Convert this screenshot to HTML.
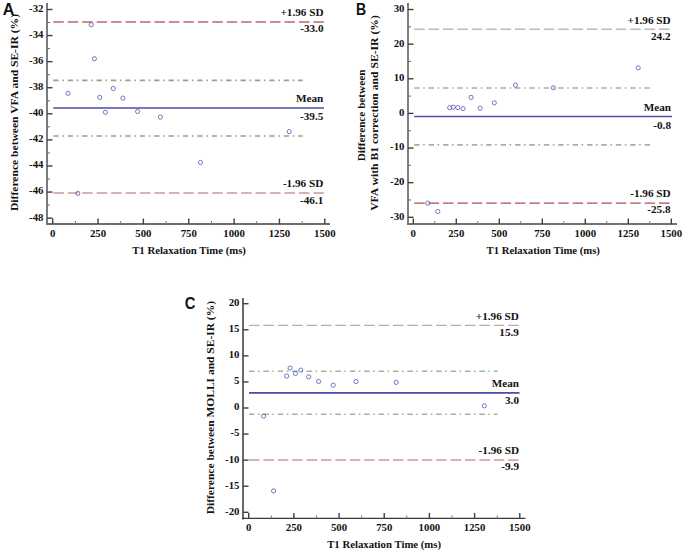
<!DOCTYPE html>
<html><head><meta charset="utf-8"><style>
html,body{margin:0;padding:0;background:#fff;}
body{width:685px;height:553px;overflow:hidden;}
svg{display:block;}
text{font-family:'Liberation Serif',serif;font-weight:bold;fill:#111;}
</style></head><body>
<svg width="685" height="553" viewBox="0 0 685 553">
<rect width="685" height="553" fill="#fff"/>
<line x1="47.00" y1="3.00" x2="47.00" y2="225.00" stroke="#747474" stroke-width="1.9" />
<line x1="46.10" y1="224.00" x2="330.00" y2="224.00" stroke="#6e6e6e" stroke-width="1.8" />
<line x1="47.00" y1="9.50" x2="52.50" y2="9.50" stroke="#404040" stroke-width="1.4" />
<text x="43.50" y="11.90" text-anchor="end" font-size="10.8" >-32</text>
<line x1="47.00" y1="35.58" x2="52.50" y2="35.58" stroke="#404040" stroke-width="1.4" />
<text x="43.50" y="37.98" text-anchor="end" font-size="10.8" >-34</text>
<line x1="47.00" y1="61.66" x2="52.50" y2="61.66" stroke="#404040" stroke-width="1.4" />
<text x="43.50" y="64.06" text-anchor="end" font-size="10.8" >-36</text>
<line x1="47.00" y1="87.74" x2="52.50" y2="87.74" stroke="#404040" stroke-width="1.4" />
<text x="43.50" y="90.14" text-anchor="end" font-size="10.8" >-38</text>
<line x1="47.00" y1="113.82" x2="52.50" y2="113.82" stroke="#404040" stroke-width="1.4" />
<text x="43.50" y="116.22" text-anchor="end" font-size="10.8" >-40</text>
<line x1="47.00" y1="139.90" x2="52.50" y2="139.90" stroke="#404040" stroke-width="1.4" />
<text x="43.50" y="142.30" text-anchor="end" font-size="10.8" >-42</text>
<line x1="47.00" y1="165.98" x2="52.50" y2="165.98" stroke="#404040" stroke-width="1.4" />
<text x="43.50" y="168.38" text-anchor="end" font-size="10.8" >-44</text>
<line x1="47.00" y1="192.06" x2="52.50" y2="192.06" stroke="#404040" stroke-width="1.4" />
<text x="43.50" y="194.46" text-anchor="end" font-size="10.8" >-46</text>
<line x1="47.00" y1="218.14" x2="52.50" y2="218.14" stroke="#404040" stroke-width="1.4" />
<text x="43.50" y="220.54" text-anchor="end" font-size="10.8" >-48</text>
<line x1="47.00" y1="22.54" x2="50.00" y2="22.54" stroke="#666" stroke-width="1" />
<line x1="47.00" y1="48.62" x2="50.00" y2="48.62" stroke="#666" stroke-width="1" />
<line x1="47.00" y1="74.70" x2="50.00" y2="74.70" stroke="#666" stroke-width="1" />
<line x1="47.00" y1="100.78" x2="50.00" y2="100.78" stroke="#666" stroke-width="1" />
<line x1="47.00" y1="126.86" x2="50.00" y2="126.86" stroke="#666" stroke-width="1" />
<line x1="47.00" y1="152.94" x2="50.00" y2="152.94" stroke="#666" stroke-width="1" />
<line x1="47.00" y1="179.02" x2="50.00" y2="179.02" stroke="#666" stroke-width="1" />
<line x1="47.00" y1="205.10" x2="50.00" y2="205.10" stroke="#666" stroke-width="1" />
<line x1="52.70" y1="224.00" x2="52.70" y2="218.50" stroke="#404040" stroke-width="1.4" />
<text x="52.70" y="236.80" text-anchor="middle" font-size="10.8" >0</text>
<line x1="98.05" y1="224.00" x2="98.05" y2="218.50" stroke="#404040" stroke-width="1.4" />
<text x="98.05" y="236.80" text-anchor="middle" font-size="10.8" >250</text>
<line x1="143.40" y1="224.00" x2="143.40" y2="218.50" stroke="#404040" stroke-width="1.4" />
<text x="143.40" y="236.80" text-anchor="middle" font-size="10.8" >500</text>
<line x1="188.75" y1="224.00" x2="188.75" y2="218.50" stroke="#404040" stroke-width="1.4" />
<text x="188.75" y="236.80" text-anchor="middle" font-size="10.8" >750</text>
<line x1="234.10" y1="224.00" x2="234.10" y2="218.50" stroke="#404040" stroke-width="1.4" />
<text x="234.10" y="236.80" text-anchor="middle" font-size="10.8" >1000</text>
<line x1="279.45" y1="224.00" x2="279.45" y2="218.50" stroke="#404040" stroke-width="1.4" />
<text x="279.45" y="236.80" text-anchor="middle" font-size="10.8" >1250</text>
<line x1="324.80" y1="224.00" x2="324.80" y2="218.50" stroke="#404040" stroke-width="1.4" />
<text x="324.80" y="236.80" text-anchor="middle" font-size="10.8" >1500</text>
<line x1="75.38" y1="224.00" x2="75.38" y2="221.00" stroke="#777" stroke-width="1" />
<line x1="120.73" y1="224.00" x2="120.73" y2="221.00" stroke="#777" stroke-width="1" />
<line x1="166.07" y1="224.00" x2="166.07" y2="221.00" stroke="#777" stroke-width="1" />
<line x1="211.43" y1="224.00" x2="211.43" y2="221.00" stroke="#777" stroke-width="1" />
<line x1="256.77" y1="224.00" x2="256.77" y2="221.00" stroke="#777" stroke-width="1" />
<line x1="302.12" y1="224.00" x2="302.12" y2="221.00" stroke="#777" stroke-width="1" />
<line x1="53.30" y1="22.10" x2="324.00" y2="22.10" stroke="#bb6a6a" stroke-width="1.5" stroke-dasharray="10.5 3.95" />
<line x1="53.30" y1="193.00" x2="324.00" y2="193.00" stroke="#c99a9a" stroke-width="1.5" stroke-dasharray="10.5 3.95" />
<line x1="53.30" y1="80.40" x2="302.80" y2="80.40" stroke="#88ab88" stroke-width="1.6" stroke-dasharray="5.4 3.6 1.6 3.8" />
<line x1="53.30" y1="136.00" x2="302.80" y2="136.00" stroke="#88ab88" stroke-width="1.6" stroke-dasharray="5.4 3.6 1.6 3.8" />
<line x1="53.30" y1="108.00" x2="324.00" y2="108.00" stroke="#4b4ba8" stroke-width="1.6" />
<circle cx="68.00" cy="93.30" r="2.1" fill="none" stroke="#4c4cb2" stroke-width="0.75"/>
<circle cx="77.80" cy="193.40" r="2.1" fill="none" stroke="#4c4cb2" stroke-width="0.75"/>
<circle cx="91.20" cy="24.70" r="2.1" fill="none" stroke="#4c4cb2" stroke-width="0.75"/>
<circle cx="94.40" cy="58.70" r="2.1" fill="none" stroke="#4c4cb2" stroke-width="0.75"/>
<circle cx="99.70" cy="97.40" r="2.1" fill="none" stroke="#4c4cb2" stroke-width="0.75"/>
<circle cx="105.40" cy="112.30" r="2.1" fill="none" stroke="#4c4cb2" stroke-width="0.75"/>
<circle cx="113.30" cy="88.50" r="2.1" fill="none" stroke="#4c4cb2" stroke-width="0.75"/>
<circle cx="122.90" cy="98.10" r="2.1" fill="none" stroke="#4c4cb2" stroke-width="0.75"/>
<circle cx="137.60" cy="111.50" r="2.1" fill="none" stroke="#4c4cb2" stroke-width="0.75"/>
<circle cx="160.40" cy="117.10" r="2.1" fill="none" stroke="#4c4cb2" stroke-width="0.75"/>
<circle cx="200.50" cy="162.50" r="2.1" fill="none" stroke="#4c4cb2" stroke-width="0.75"/>
<circle cx="289.20" cy="131.60" r="2.1" fill="none" stroke="#4c4cb2" stroke-width="0.75"/>
<text x="323.50" y="15.80" text-anchor="end" font-size="11.2" >+1.96 SD</text>
<text x="323.50" y="32.40" text-anchor="end" font-size="11.2" >-33.0</text>
<text x="323.30" y="102.30" text-anchor="end" font-size="11.2" >Mean</text>
<text x="323.30" y="119.60" text-anchor="end" font-size="11.2" >-39.5</text>
<text x="323.30" y="186.80" text-anchor="end" font-size="11.2" >-1.96 SD</text>
<text x="323.30" y="203.60" text-anchor="end" font-size="11.2" >-46.1</text>
<text x="132.20" y="253.50" font-size="11.0" textLength="113.70" lengthAdjust="spacingAndGlyphs">T1 Relaxation Time (ms)</text>
<text transform="translate(17.60,211.00) rotate(-90)" font-size="11.0" textLength="197.00" lengthAdjust="spacingAndGlyphs">Difference between VFA and SE-IR (%)</text>
<text transform="translate(2.7,14.6) scale(0.98,1)" font-size="16.4" style="font-family:'Liberation Sans',sans-serif;font-weight:bold" fill="#000">A</text>
<line x1="408.00" y1="3.00" x2="408.00" y2="225.00" stroke="#7e7e7e" stroke-width="2.0" />
<line x1="407.10" y1="224.00" x2="677.00" y2="224.00" stroke="#727272" stroke-width="1.8" />
<line x1="408.00" y1="9.51" x2="413.50" y2="9.51" stroke="#404040" stroke-width="1.4" />
<text x="404.50" y="11.91" text-anchor="end" font-size="10.8" >30</text>
<line x1="408.00" y1="44.14" x2="413.50" y2="44.14" stroke="#404040" stroke-width="1.4" />
<text x="404.50" y="46.54" text-anchor="end" font-size="10.8" >20</text>
<line x1="408.00" y1="78.77" x2="413.50" y2="78.77" stroke="#404040" stroke-width="1.4" />
<text x="404.50" y="81.17" text-anchor="end" font-size="10.8" >10</text>
<line x1="408.00" y1="113.40" x2="413.50" y2="113.40" stroke="#404040" stroke-width="1.4" />
<text x="404.50" y="115.80" text-anchor="end" font-size="10.8" >0</text>
<line x1="408.00" y1="148.03" x2="413.50" y2="148.03" stroke="#404040" stroke-width="1.4" />
<text x="404.50" y="150.43" text-anchor="end" font-size="10.8" >-10</text>
<line x1="408.00" y1="182.66" x2="413.50" y2="182.66" stroke="#404040" stroke-width="1.4" />
<text x="404.50" y="185.06" text-anchor="end" font-size="10.8" >-20</text>
<line x1="408.00" y1="217.29" x2="413.50" y2="217.29" stroke="#404040" stroke-width="1.4" />
<text x="404.50" y="219.69" text-anchor="end" font-size="10.8" >-30</text>
<line x1="408.00" y1="26.83" x2="411.00" y2="26.83" stroke="#666" stroke-width="1" />
<line x1="408.00" y1="61.46" x2="411.00" y2="61.46" stroke="#666" stroke-width="1" />
<line x1="408.00" y1="96.09" x2="411.00" y2="96.09" stroke="#666" stroke-width="1" />
<line x1="408.00" y1="130.72" x2="411.00" y2="130.72" stroke="#666" stroke-width="1" />
<line x1="408.00" y1="165.34" x2="411.00" y2="165.34" stroke="#666" stroke-width="1" />
<line x1="408.00" y1="199.98" x2="411.00" y2="199.98" stroke="#666" stroke-width="1" />
<line x1="413.30" y1="224.00" x2="413.30" y2="218.50" stroke="#404040" stroke-width="1.4" />
<text x="413.30" y="236.60" text-anchor="middle" font-size="10.8" >0</text>
<line x1="456.30" y1="224.00" x2="456.30" y2="218.50" stroke="#404040" stroke-width="1.4" />
<text x="456.30" y="236.60" text-anchor="middle" font-size="10.8" >250</text>
<line x1="499.30" y1="224.00" x2="499.30" y2="218.50" stroke="#404040" stroke-width="1.4" />
<text x="499.30" y="236.60" text-anchor="middle" font-size="10.8" >500</text>
<line x1="542.30" y1="224.00" x2="542.30" y2="218.50" stroke="#404040" stroke-width="1.4" />
<text x="542.30" y="236.60" text-anchor="middle" font-size="10.8" >750</text>
<line x1="585.30" y1="224.00" x2="585.30" y2="218.50" stroke="#404040" stroke-width="1.4" />
<text x="585.30" y="236.60" text-anchor="middle" font-size="10.8" >1000</text>
<line x1="628.30" y1="224.00" x2="628.30" y2="218.50" stroke="#404040" stroke-width="1.4" />
<text x="628.30" y="236.60" text-anchor="middle" font-size="10.8" >1250</text>
<line x1="671.30" y1="224.00" x2="671.30" y2="218.50" stroke="#404040" stroke-width="1.4" />
<text x="671.30" y="236.60" text-anchor="middle" font-size="10.8" >1500</text>
<line x1="434.80" y1="224.00" x2="434.80" y2="221.00" stroke="#777" stroke-width="1" />
<line x1="477.80" y1="224.00" x2="477.80" y2="221.00" stroke="#777" stroke-width="1" />
<line x1="520.80" y1="224.00" x2="520.80" y2="221.00" stroke="#777" stroke-width="1" />
<line x1="563.80" y1="224.00" x2="563.80" y2="221.00" stroke="#777" stroke-width="1" />
<line x1="606.80" y1="224.00" x2="606.80" y2="221.00" stroke="#777" stroke-width="1" />
<line x1="649.80" y1="224.00" x2="649.80" y2="221.00" stroke="#777" stroke-width="1" />
<line x1="414.20" y1="29.30" x2="670.00" y2="29.30" stroke="#cbb3b3" stroke-width="1.5" stroke-dasharray="10.5 3.9" />
<line x1="414.20" y1="203.20" x2="670.00" y2="203.20" stroke="#b44c4c" stroke-width="1.3" stroke-dasharray="10.5 3.9" />
<line x1="414.20" y1="88.00" x2="650.20" y2="88.00" stroke="#9ab89a" stroke-width="1.6" stroke-dasharray="5.4 3.6 1.6 3.8" />
<line x1="414.20" y1="144.90" x2="650.20" y2="144.90" stroke="#9ab89a" stroke-width="1.6" stroke-dasharray="5.4 3.6 1.6 3.8" />
<line x1="414.20" y1="116.50" x2="672.00" y2="116.50" stroke="#4b4ba8" stroke-width="1.6" />
<circle cx="427.80" cy="203.10" r="2.1" fill="none" stroke="#4c4cb2" stroke-width="0.75"/>
<circle cx="437.80" cy="211.50" r="2.1" fill="none" stroke="#4c4cb2" stroke-width="0.75"/>
<circle cx="449.70" cy="107.70" r="2.1" fill="none" stroke="#4c4cb2" stroke-width="0.75"/>
<circle cx="453.20" cy="107.20" r="2.1" fill="none" stroke="#4c4cb2" stroke-width="0.75"/>
<circle cx="457.80" cy="107.60" r="2.1" fill="none" stroke="#4c4cb2" stroke-width="0.75"/>
<circle cx="463.00" cy="108.60" r="2.1" fill="none" stroke="#4c4cb2" stroke-width="0.75"/>
<circle cx="471.10" cy="97.40" r="2.1" fill="none" stroke="#4c4cb2" stroke-width="0.75"/>
<circle cx="480.10" cy="108.20" r="2.1" fill="none" stroke="#4c4cb2" stroke-width="0.75"/>
<circle cx="494.30" cy="102.90" r="2.1" fill="none" stroke="#4c4cb2" stroke-width="0.75"/>
<circle cx="515.50" cy="85.20" r="2.1" fill="none" stroke="#4c4cb2" stroke-width="0.75"/>
<circle cx="553.40" cy="87.80" r="2.1" fill="none" stroke="#4c4cb2" stroke-width="0.75"/>
<circle cx="638.20" cy="67.80" r="2.1" fill="none" stroke="#4c4cb2" stroke-width="0.75"/>
<text x="670.60" y="23.70" text-anchor="end" font-size="11.2" >+1.96 SD</text>
<text x="670.60" y="40.30" text-anchor="end" font-size="11.2" >24.2</text>
<text x="671.00" y="111.00" text-anchor="end" font-size="11.2" >Mean</text>
<text x="671.00" y="128.50" text-anchor="end" font-size="11.2" >-0.8</text>
<text x="670.60" y="197.40" text-anchor="end" font-size="11.2" >-1.96 SD</text>
<text x="670.60" y="213.30" text-anchor="end" font-size="11.2" >-25.8</text>
<text x="486.60" y="253.50" font-size="11.0" textLength="113.30" lengthAdjust="spacingAndGlyphs">T1 Relaxation Time (ms)</text>
<text transform="translate(364.80,161.30) rotate(-90)" font-size="11.0" textLength="91.70" lengthAdjust="spacingAndGlyphs">Difference between</text>
<text transform="translate(378.20,210.80) rotate(-90)" font-size="11.0" textLength="195.60" lengthAdjust="spacingAndGlyphs">VFA with B1 correction and SE-IR (%)</text>
<text transform="translate(355.9,14.6) scale(0.86,1)" font-size="16.4" style="font-family:'Liberation Sans',sans-serif;font-weight:bold" fill="#000">B</text>
<line x1="243.00" y1="298.00" x2="243.00" y2="519.40" stroke="#626262" stroke-width="1.9" />
<line x1="242.10" y1="518.40" x2="525.40" y2="518.40" stroke="#3a3a3a" stroke-width="1.4" />
<line x1="243.00" y1="303.70" x2="248.50" y2="303.70" stroke="#404040" stroke-width="1.4" />
<text x="239.50" y="306.10" text-anchor="end" font-size="10.8" >20</text>
<line x1="243.00" y1="329.77" x2="248.50" y2="329.77" stroke="#404040" stroke-width="1.4" />
<text x="239.50" y="332.17" text-anchor="end" font-size="10.8" >15</text>
<line x1="243.00" y1="355.85" x2="248.50" y2="355.85" stroke="#404040" stroke-width="1.4" />
<text x="239.50" y="358.25" text-anchor="end" font-size="10.8" >10</text>
<line x1="243.00" y1="381.93" x2="248.50" y2="381.93" stroke="#404040" stroke-width="1.4" />
<text x="239.50" y="384.32" text-anchor="end" font-size="10.8" >5</text>
<line x1="243.00" y1="408.00" x2="248.50" y2="408.00" stroke="#404040" stroke-width="1.4" />
<text x="239.50" y="410.40" text-anchor="end" font-size="10.8" >0</text>
<line x1="243.00" y1="434.07" x2="248.50" y2="434.07" stroke="#404040" stroke-width="1.4" />
<text x="239.50" y="436.47" text-anchor="end" font-size="10.8" >-5</text>
<line x1="243.00" y1="460.15" x2="248.50" y2="460.15" stroke="#404040" stroke-width="1.4" />
<text x="239.50" y="462.55" text-anchor="end" font-size="10.8" >-10</text>
<line x1="243.00" y1="486.23" x2="248.50" y2="486.23" stroke="#404040" stroke-width="1.4" />
<text x="239.50" y="488.62" text-anchor="end" font-size="10.8" >-15</text>
<line x1="243.00" y1="512.30" x2="248.50" y2="512.30" stroke="#404040" stroke-width="1.4" />
<text x="239.50" y="514.70" text-anchor="end" font-size="10.8" >-20</text>
<line x1="248.70" y1="518.40" x2="248.70" y2="512.90" stroke="#404040" stroke-width="1.4" />
<text x="248.70" y="531.20" text-anchor="middle" font-size="10.8" >0</text>
<line x1="293.88" y1="518.40" x2="293.88" y2="512.90" stroke="#404040" stroke-width="1.4" />
<text x="293.88" y="531.20" text-anchor="middle" font-size="10.8" >250</text>
<line x1="339.06" y1="518.40" x2="339.06" y2="512.90" stroke="#404040" stroke-width="1.4" />
<text x="339.06" y="531.20" text-anchor="middle" font-size="10.8" >500</text>
<line x1="384.24" y1="518.40" x2="384.24" y2="512.90" stroke="#404040" stroke-width="1.4" />
<text x="384.24" y="531.20" text-anchor="middle" font-size="10.8" >750</text>
<line x1="429.42" y1="518.40" x2="429.42" y2="512.90" stroke="#404040" stroke-width="1.4" />
<text x="429.42" y="531.20" text-anchor="middle" font-size="10.8" >1000</text>
<line x1="474.60" y1="518.40" x2="474.60" y2="512.90" stroke="#404040" stroke-width="1.4" />
<text x="474.60" y="531.20" text-anchor="middle" font-size="10.8" >1250</text>
<line x1="519.78" y1="518.40" x2="519.78" y2="512.90" stroke="#404040" stroke-width="1.4" />
<text x="519.78" y="531.20" text-anchor="middle" font-size="10.8" >1500</text>
<line x1="271.29" y1="518.40" x2="271.29" y2="515.40" stroke="#777" stroke-width="1" />
<line x1="316.47" y1="518.40" x2="316.47" y2="515.40" stroke="#777" stroke-width="1" />
<line x1="361.65" y1="518.40" x2="361.65" y2="515.40" stroke="#777" stroke-width="1" />
<line x1="406.83" y1="518.40" x2="406.83" y2="515.40" stroke="#777" stroke-width="1" />
<line x1="452.01" y1="518.40" x2="452.01" y2="515.40" stroke="#777" stroke-width="1" />
<line x1="497.19" y1="518.40" x2="497.19" y2="515.40" stroke="#777" stroke-width="1" />
<line x1="249.00" y1="325.40" x2="519.00" y2="325.40" stroke="#c8a8a8" stroke-width="1.2" stroke-dasharray="10.5 3.9" />
<line x1="249.00" y1="459.90" x2="519.00" y2="459.90" stroke="#c99a9a" stroke-width="1.5" stroke-dasharray="10.5 3.9" />
<line x1="249.00" y1="371.30" x2="497.60" y2="371.30" stroke="#9ab89a" stroke-width="1.4" stroke-dasharray="5.4 3.6 1.6 3.8" />
<line x1="249.00" y1="414.30" x2="497.60" y2="414.30" stroke="#9ab89a" stroke-width="1.4" stroke-dasharray="5.4 3.6 1.6 3.8" />
<line x1="249.00" y1="392.90" x2="519.50" y2="392.90" stroke="#4b4ba8" stroke-width="1.6" />
<circle cx="263.60" cy="416.10" r="2.1" fill="none" stroke="#4c4cb2" stroke-width="0.75"/>
<circle cx="273.60" cy="490.90" r="2.1" fill="none" stroke="#4c4cb2" stroke-width="0.75"/>
<circle cx="286.60" cy="376.00" r="2.1" fill="none" stroke="#4c4cb2" stroke-width="0.75"/>
<circle cx="290.10" cy="368.10" r="2.1" fill="none" stroke="#4c4cb2" stroke-width="0.75"/>
<circle cx="295.40" cy="373.40" r="2.1" fill="none" stroke="#4c4cb2" stroke-width="0.75"/>
<circle cx="300.80" cy="370.10" r="2.1" fill="none" stroke="#4c4cb2" stroke-width="0.75"/>
<circle cx="308.70" cy="376.90" r="2.1" fill="none" stroke="#4c4cb2" stroke-width="0.75"/>
<circle cx="318.60" cy="381.50" r="2.1" fill="none" stroke="#4c4cb2" stroke-width="0.75"/>
<circle cx="333.20" cy="385.20" r="2.1" fill="none" stroke="#4c4cb2" stroke-width="0.75"/>
<circle cx="356.00" cy="381.50" r="2.1" fill="none" stroke="#4c4cb2" stroke-width="0.75"/>
<circle cx="396.20" cy="382.40" r="2.1" fill="none" stroke="#4c4cb2" stroke-width="0.75"/>
<circle cx="484.30" cy="405.80" r="2.1" fill="none" stroke="#4c4cb2" stroke-width="0.75"/>
<text x="518.90" y="319.80" text-anchor="end" font-size="11.2" >+1.96 SD</text>
<text x="518.90" y="336.40" text-anchor="end" font-size="11.2" >15.9</text>
<text x="519.00" y="386.90" text-anchor="end" font-size="11.2" >Mean</text>
<text x="519.00" y="404.40" text-anchor="end" font-size="11.2" >3.0</text>
<text x="519.00" y="453.60" text-anchor="end" font-size="11.2" >-1.96 SD</text>
<text x="519.00" y="470.10" text-anchor="end" font-size="11.2" >-9.9</text>
<text x="327.20" y="547.80" font-size="11.0" textLength="113.90" lengthAdjust="spacingAndGlyphs">T1 Relaxation Time (ms)</text>
<text transform="translate(213.60,514.30) rotate(-90)" font-size="11.0" textLength="213.30" lengthAdjust="spacingAndGlyphs">Difference between MOLLI and SE-IR (%)</text>
<text transform="translate(184.8,309.2) scale(0.9,1)" font-size="16.4" style="font-family:'Liberation Sans',sans-serif;font-weight:bold" fill="#000">C</text>
</svg>
</body></html>
